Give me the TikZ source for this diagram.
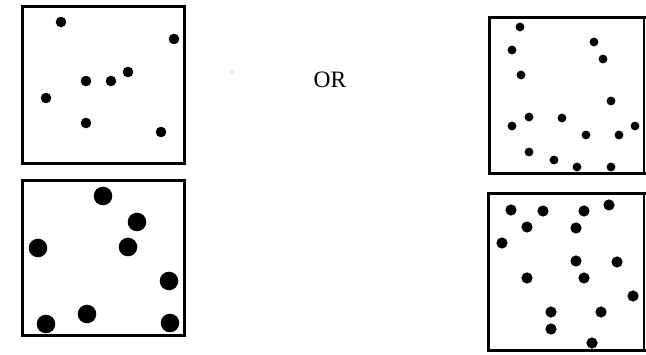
\documentclass[tikz,border=0pt]{standalone}
\usepackage{fontspec}
\setmainfont{Liberation Serif}
\begin{document}
\begin{tikzpicture}[x=1pt,y=-1pt,
  frame/.style={line width=3pt,line join=miter},
  thin edge/.style={line width=1.3pt},
  dot/.style={fill=black}]
\useasboundingbox (0,0) rectangle (646,355);
% top-left box
\draw[frame] (22,7) rectangle (184,164);
\foreach \p in {(61,22),(174,39),(86,81),(111,81),(128,72),(46,98),(86,123),(161,132)}
  \fill[dot] \p circle (5.3);
% bottom-left box
\draw[frame] (22,181) rectangle (184,336);
\foreach \p in {(103,196),(137,222),(38,248),(128,247),(169,281),(87,314),(46,324),(170,323)}
  \fill[dot] \p circle (9.3);
% OR
\node[font=\fontsize{23.5}{27}\selectfont,inner sep=0pt] (or) at (330,79.5) {OR};
\fill[gray!60] (232,72) circle (0.8);
% top-right box
\draw[frame] (646,18) -- (489,18) -- (489,174) -- (646,174);
\draw[thin edge] (644,18) -- (644,174);
\foreach \p in {(520,27),(512,50),(594,42),(603,59),(521,75),(611,101),(529,117),(562,118),(512,126),(586,135),(619,135),(635,126),(529,152),(554,160),(577,167),(611,167)}
  \fill[dot] \p circle (4.4);
% bottom-right box
\draw[frame] (646,194) -- (488,194) -- (488,351) -- (646,351);
\draw[thin edge] (644,194) -- (644,351);
\foreach \p in {(511,210),(543,211),(584,211),(609,205),(527,227),(576,228),(502,243),(576,261),(617,262),(527,278),(584,278),(633,296),(551,312),(601,312),(551,329),(592,343)}
  \fill[dot] \p circle (5.6);
\end{tikzpicture}
\end{document}
